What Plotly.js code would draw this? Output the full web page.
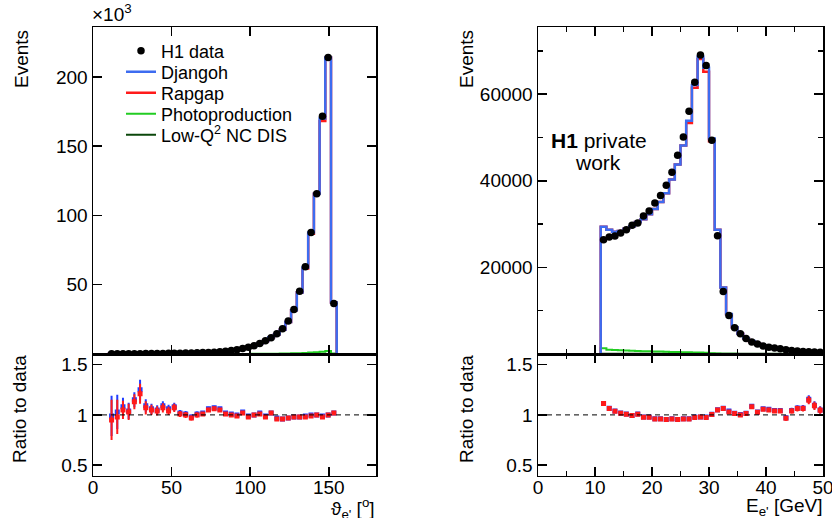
<!DOCTYPE html>
<html>
<head>
<meta charset="utf-8">
<script src="https://cdn.plot.ly/plotly-3.0.1.min.js"></script>
<style>html,body{margin:0;padding:0;background:#fff;}#chart{width:832px;height:518px;}</style>
</head>
<body>
<div id="chart"></div>
<script>
// ---------- Left: polar angle of scattered electron (units of 10^3 events) ----------
const thetaEdges = [10, 13.625, 17.25, 20.875, 24.5, 28.125, 31.75, 35.375, 39, 42.625, 46.25, 49.875, 53.5, 57.125, 60.75, 64.375, 68, 71.625, 75.25, 78.875, 82.5, 86.125, 89.75, 93.375, 97, 100.625, 104.25, 107.875, 111.5, 115.125, 118.75, 122.375, 126, 129.625, 133.25, 136.875, 140.5, 144.125, 147.75, 151.375, 155];
const thetaData = [0.15, 0.17, 0.19, 0.21, 0.23, 0.26, 0.30, 0.34, 0.38, 0.43, 0.48, 0.54, 0.60, 0.68, 0.77, 0.87, 1.0, 1.15, 1.35, 1.6, 2.0, 2.5, 3.1, 3.9, 4.9, 6.0, 7.5, 9.5, 11.8, 14.6, 18.2, 23.8, 32.2, 45.3, 63.0, 87.6, 115.6, 171.6, 213.9, 36.4];
const thetaDjangoh = [0.149, 0.175, 0.205, 0.218, 0.265, 0.325, 0.327, 0.36, 0.40, 0.47, 0.51, 0.58, 0.61, 0.69, 0.75, 0.88, 1.02, 1.22, 1.44, 1.70, 2.04, 2.53, 3.1, 4.02, 4.85, 6.0, 7.65, 9.4, 12.0, 14.2, 17.5, 23.1, 31.6, 44.4, 62.4, 87.6, 115.6, 169.9, 213.9, 37.1];
const thetaRapgap = [0.143, 0.167, 0.2, 0.216, 0.26, 0.315, 0.321, 0.357, 0.395, 0.46, 0.5, 0.578, 0.606, 0.68, 0.747, 0.87, 1.01, 1.21, 1.43, 1.68, 2.02, 2.5, 3.07, 3.98, 4.8, 6.0, 7.58, 9.31, 12.0, 14.0, 17.5, 23.1, 31.6, 44.4, 61.7, 86.7, 115.6, 168.2, 213.9, 37.1];
const thetaPhoto = [0.02, 0.02, 0.02, 0.02, 0.02, 0.02, 0.02, 0.02, 0.02, 0.03, 0.03, 0.03, 0.03, 0.03, 0.04, 0.04, 0.04, 0.05, 0.05, 0.05, 0.06, 0.06, 0.07, 0.08, 0.09, 0.1, 0.12, 0.15, 0.2, 0.25, 0.3, 0.4, 0.5, 0.6, 0.8, 1.0, 1.3, 1.7, 2.2, 0.3];
const thetaLowQ2 = [0.01, 0.01, 0.01, 0.01, 0.01, 0.01, 0.01, 0.01, 0.01, 0.01, 0.01, 0.01, 0.01, 0.01, 0.01, 0.01, 0.01, 0.01, 0.01, 0.01, 0.01, 0.01, 0.01, 0.01, 0.01, 0.01, 0.01, 0.01, 0.01, 0.01, 0.01, 0.01, 0.01, 0.01, 0.01, 0.01, 0.01, 0.01, 0.01, 0.01];
const thetaRatioDjangoh = [0.99, 1.03, 1.08, 1.04, 1.15, 1.25, 1.09, 1.06, 1.05, 1.09, 1.06, 1.08, 1.02, 1.01, 0.98, 1.01, 1.02, 1.06, 1.07, 1.06, 1.02, 1.01, 1.00, 1.03, 0.99, 1.00, 1.02, 0.99, 1.02, 0.97, 0.96, 0.97, 0.98, 0.98, 0.99, 1.00, 1.00, 0.99, 1.00, 1.02];
const thetaRatioRapgap = [0.95, 0.98, 1.05, 1.03, 1.13, 1.21, 1.07, 1.05, 1.04, 1.07, 1.04, 1.07, 1.01, 1.00, 0.97, 1.00, 1.01, 1.05, 1.06, 1.05, 1.01, 1.00, 0.99, 1.02, 0.98, 1.00, 1.01, 0.98, 1.02, 0.96, 0.96, 0.97, 0.98, 0.98, 0.98, 0.99, 1.00, 0.98, 1.00, 1.02];
const thetaRatioErr = [0.2, 0.17, 0.09, 0.08, 0.075, 0.1, 0.065, 0.05, 0.045, 0.045, 0.04, 0.04, 0.03, 0.03, 0.025, 0.025, 0.02, 0.02, 0.02, 0.018, 0.015, 0.015, 0.012, 0.012, 0.01, 0.01, 0.01, 0.008, 0.008, 0.007, 0.007, 0.006, 0.006, 0.005, 0.005, 0.005, 0.004, 0.004, 0.004, 0.006];
const thetaTicks = [0, 50, 100, 150];
const thetaEventTicks = [50, 100, 150, 200];

// ---------- Right: energy of scattered electron (events) ----------
const energyEdges = [11, 12, 13, 14, 15, 16, 17, 18, 19, 20, 21, 22, 23, 24, 25, 26, 27, 28, 29, 30, 31, 32, 33, 34, 35, 36, 37, 38, 39, 40, 41, 42, 43, 44, 45, 46, 47, 48, 49, 50];
const energyData = [26400, 27000, 27240, 27930, 28700, 29700, 30240, 31860, 33020, 34870, 36570, 38960, 41960, 45890, 50130, 56070, 62770, 69010, 66630, 49360, 27330, 14450, 8900, 6060, 4670, 3550, 2750, 2300, 1850, 1570, 1400, 1200, 1000, 830, 700, 600, 520, 450, 400];
const energyDjangoh = [29380, 28700, 28250, 28400, 28900, 29490, 30450, 31130, 32260, 33480, 35110, 37130, 40280, 43730, 48120, 53830, 62080, 68620, 66080, 49760, 28700, 15360, 9250, 6160, 4680, 3610, 2980, 2370, 1960, 1655, 1460, 1255, 970, 866, 748, 641, 600, 493, 420];
const energyRapgap = [29380, 28700, 28250, 28400, 28900, 29490, 30450, 31130, 32260, 33480, 35110, 37130, 40280, 43730, 48120, 53360, 61450, 68100, 65150, 49130, 28700, 15360, 9170, 6140, 4670, 3600, 2970, 2360, 1955, 1650, 1455, 1250, 967, 863, 744, 638, 596, 490, 419];
const energyPhoto = [1300, 1000, 900, 850, 800, 750, 700, 650, 620, 580, 550, 520, 490, 460, 430, 400, 370, 330, 280, 200, 100, 60, 40, 30, 25, 20, 18, 15, 12, 10, 9, 8, 7, 6, 6, 5, 5, 5, 5];
const energyLowQ2 = [30, 30, 30, 30, 30, 30, 30, 30, 30, 30, 30, 30, 30, 30, 30, 30, 30, 30, 30, 30, 30, 30, 30, 30, 30, 30, 30, 30, 30, 30, 30, 30, 30, 30, 30, 30, 30, 30, 30];
const energyRatioDjangoh = [1.113, 1.065, 1.038, 1.018, 1.008, 0.995, 1.008, 0.978, 0.978, 0.962, 0.962, 0.955, 0.962, 0.955, 0.962, 0.962, 0.98, 0.98, 0.98, 1.007, 1.052, 1.065, 1.04, 1.017, 1.003, 1.016, 1.085, 1.03, 1.06, 1.055, 1.045, 1.045, 0.972, 1.045, 1.068, 1.068, 1.155, 1.095, 1.05];
const energyRatioRapgap = [1.113, 1.063, 1.037, 1.017, 1.007, 0.993, 1.007, 0.977, 0.977, 0.96, 0.96, 0.953, 0.96, 0.953, 0.96, 0.96, 0.975, 0.978, 0.975, 1.003, 1.05, 1.063, 1.03, 1.013, 1.0, 1.013, 1.08, 1.027, 1.057, 1.05, 1.04, 1.04, 0.967, 1.04, 1.063, 1.063, 1.147, 1.09, 1.047];
const energyRatioErr = [0.006, 0.006, 0.006, 0.006, 0.006, 0.006, 0.006, 0.006, 0.005, 0.005, 0.005, 0.005, 0.005, 0.005, 0.005, 0.005, 0.005, 0.005, 0.005, 0.005, 0.006, 0.008, 0.01, 0.012, 0.013, 0.015, 0.016, 0.018, 0.019, 0.02, 0.021, 0.022, 0.024, 0.026, 0.028, 0.03, 0.04, 0.04, 0.035];
const energyTicks = [0, 10, 20, 30, 40, 50];
const energyEventTicks = [20000, 40000, 60000];
const energyEventTickText = ['20000', '40000', '60000'];

const ratioTicks = [0.5, 1, 1.5];
const ratioTickText = ['0.5', '1', '1.5'];

// ---------- helpers ----------
const centers = e => e.slice(0, -1).map((v, i) => (v + e[i + 1]) / 2);
function stepXY(edges, vals, xmin, xmax) {
  const n = vals.length;
  let x = [edges[0], edges[0]].concat(edges.slice(1, n)).concat([edges[n], edges[n]]);
  let y = [0, vals[0]].concat(vals.slice(1)).concat([vals[n - 1], 0]);
  if (xmin !== undefined) { x = [xmin].concat(x).concat([xmax]); y = [0].concat(y).concat([0]); }
  return {x, y};
}
const FONT = 'Liberation Sans, Arial, Helvetica, sans-serif';
const BLUE = '#3d6cf0', RED = '#ff1a1a', GREEN = '#22cc22', DKGREEN = '#0b470b';

function histTrace(edges, vals, xa, ya, color, width, name, leg, xmin, xmax) {
  const s = stepXY(edges, vals, xmin, xmax);
  return {x: s.x, y: s.y, xaxis: xa, yaxis: ya, type: 'scatter', mode: 'lines',
    line: {shape: 'hv', color: color, width: width}, name: name, showlegend: !!leg,
    legend: leg || 'legend', hoverinfo: 'skip'};
}
function dataTrace(edges, vals, xa, ya, leg) {
  return {x: centers(edges), y: vals, xaxis: xa, yaxis: ya, type: 'scatter', mode: 'markers',
    marker: {color: 'black', size: 7.5, symbol: 'circle'}, name: 'H1 data', showlegend: !!leg, legend: leg || 'legend'};
}
function ratioTrace(edges, vals, err, xa, ya, color) {
  return {x: centers(edges), y: vals, xaxis: xa, yaxis: ya, type: 'scatter', mode: 'markers',
    marker: {color: color, size: 5, symbol: 'square'},
    error_y: {type: 'data', array: err, visible: true, color: color, thickness: 2, width: 0},
    showlegend: false};
}

const traces = [
  // left upper
  histTrace(thetaEdges, thetaLowQ2, 'x', 'y', DKGREEN, 2, 'Low-Q<sup>2</sup> NC DIS', 'legend5', 0, 180),
  histTrace(thetaEdges, thetaPhoto, 'x', 'y', GREEN, 2, 'Photoproduction', 'legend4'),
  histTrace(thetaEdges, thetaRapgap, 'x', 'y', RED, 2.5, 'Rapgap', 'legend3'),
  histTrace(thetaEdges, thetaDjangoh, 'x', 'y', BLUE, 2.5, 'Djangoh', 'legend2'),
  dataTrace(thetaEdges, thetaData, 'x', 'y', 'legend'),
  // right upper
  histTrace(energyEdges, energyLowQ2, 'x2', 'y2', DKGREEN, 2, 'Low-Q2', null, 0, 50),
  histTrace(energyEdges, energyPhoto, 'x2', 'y2', GREEN, 2, 'Photoproduction', null),
  histTrace(energyEdges, energyRapgap, 'x2', 'y2', RED, 2.5, 'Rapgap', null),
  histTrace(energyEdges, energyDjangoh, 'x2', 'y2', BLUE, 2.5, 'Djangoh', null),
  dataTrace(energyEdges, energyData, 'x2', 'y2', null),
  // ratios
  ratioTrace(thetaEdges, thetaRatioDjangoh, thetaRatioErr, 'x3', 'y3', '#1f3cff'),
  ratioTrace(thetaEdges, thetaRatioRapgap, thetaRatioErr, 'x3', 'y3', RED),
  ratioTrace(energyEdges, energyRatioDjangoh, energyRatioErr, 'x4', 'y4', '#1f3cff'),
  ratioTrace(energyEdges, energyRatioRapgap, energyRatioErr, 'x4', 'y4', RED)
];

const W = 832, H = 518;
const px = v => v / W, py = v => 1 - v / H;
const axBase = {showgrid: false, zeroline: false, showline: true, linecolor: 'black', linewidth: 1.5,
  mirror: 'ticks', ticks: 'inside', tickcolor: 'black', tickwidth: 1.5, ticklen: 9,
  ticklabeloverflow: 'allow',
  tickfont: {family: FONT, size: 19, color: 'black'}, fixedrange: true};
const minorX = {ticks: 'inside', ticklen: 5, tickcolor: 'black', tickwidth: 1.5, tickmode: 'array', tickvals: [5, 15, 25, 35, 45]};
const LX = [px(93), px(376)], RX = [px(538), px(823)];
const UY = [py(354), py(27)], DY = [py(475.5), py(354)];

function legendAt(rowY) {
  return {x: px(121), y: py(rowY), xanchor: 'left', yanchor: 'middle', bgcolor: 'rgba(0,0,0,0)', borderwidth: 0,
    font: {family: FONT, size: 18, color: 'black'}, itemwidth: 30};
}

const layout = {
  width: W, height: H, margin: {l: 0, r: 0, t: 0, b: 0},
  paper_bgcolor: 'white', plot_bgcolor: 'white', font: {family: FONT, color: 'black'},
  xaxis: Object.assign({}, axBase, {domain: LX, range: [0, 180], anchor: 'y', tickmode: 'array', tickvals: thetaTicks, showticklabels: false}),
  yaxis: Object.assign({}, axBase, {domain: UY, range: [0, 236], anchor: 'x', tickmode: 'array', tickvals: thetaEventTicks}),
  xaxis2: Object.assign({}, axBase, {domain: RX, range: [0, 50], anchor: 'y2', tickmode: 'array', tickvals: energyTicks, showticklabels: false, minor: minorX}),
  yaxis2: Object.assign({}, axBase, {domain: UY, range: [0, 75500], anchor: 'x2', tickmode: 'array', tickvals: energyEventTicks, ticktext: energyEventTickText,
    minor: {ticks: 'inside', ticklen: 5, tickcolor: 'black', tickwidth: 1.5, tickmode: 'array', tickvals: [10000, 30000, 50000, 70000]}}),
  xaxis3: Object.assign({}, axBase, {domain: LX, range: [0, 180], anchor: 'y3', tickmode: 'array', tickvals: thetaTicks, ticklabelstandoff: -6}),
  yaxis3: Object.assign({}, axBase, {domain: DY, range: [0.397, 1.606], anchor: 'x3', tickmode: 'array', tickvals: ratioTicks, ticktext: ratioTickText}),
  xaxis4: Object.assign({}, axBase, {domain: RX, range: [0, 50], anchor: 'y4', tickmode: 'array', tickvals: energyTicks, ticklabelstandoff: -6, minor: minorX}),
  yaxis4: Object.assign({}, axBase, {domain: DY, range: [0.397, 1.606], anchor: 'x4', tickmode: 'array', tickvals: ratioTicks, ticktext: ratioTickText}),
  showlegend: true,
  legend: legendAt(51), legend2: legendAt(72), legend3: legendAt(93), legend4: legendAt(114), legend5: legendAt(135),
  shapes: [
    {type: 'line', xref: 'x3 domain', yref: 'y3', x0: 0, x1: 1, y0: 1, y1: 1, line: {color: 'black', width: 1, dash: '5px,4px'}},
    {type: 'line', xref: 'x4 domain', yref: 'y4', x0: 0, x1: 1, y0: 1, y1: 1, line: {color: 'black', width: 1, dash: '5px,4px'}}
  ],
  annotations: [
    {xref: 'paper', yref: 'paper', x: px(21), y: py(28), xanchor: 'center', yanchor: 'top', textangle: -90, showarrow: false, text: 'Events', font: {size: 19}},
    {xref: 'paper', yref: 'paper', x: px(19), y: py(353), xanchor: 'center', yanchor: 'top', textangle: -90, showarrow: false, text: 'Ratio to data', font: {size: 19}},
    {xref: 'paper', yref: 'paper', x: px(466), y: py(28), xanchor: 'center', yanchor: 'top', textangle: -90, showarrow: false, text: 'Events', font: {size: 19}},
    {xref: 'paper', yref: 'paper', x: px(466), y: py(353), xanchor: 'center', yanchor: 'top', textangle: -90, showarrow: false, text: 'Ratio to data', font: {size: 19}},
    {xref: 'paper', yref: 'paper', x: px(90), y: py(27), xanchor: 'left', yanchor: 'bottom', showarrow: false, text: '×10<sup>3</sup>', font: {size: 19}},
    {xref: 'paper', yref: 'paper', x: px(377), y: py(493), xanchor: 'right', yanchor: 'top', showarrow: false, text: "ϑ<sub>e'</sub> [<sup>o</sup>]", font: {size: 19}},
    {xref: 'paper', yref: 'paper', x: px(824), y: py(493), xanchor: 'right', yanchor: 'top', showarrow: false, text: "E<sub>e'</sub> [GeV]", font: {size: 19}},
    {xref: 'paper', yref: 'paper', x: px(549), y: py(140), xanchor: 'left', yanchor: 'middle', showarrow: false, text: '<b>H1</b> private', font: {size: 21}},
    {xref: 'paper', yref: 'paper', x: px(598), y: py(162), xanchor: 'center', yanchor: 'middle', showarrow: false, text: 'work', font: {size: 21}}
  ]
};

Plotly.newPlot('chart', traces, layout, {staticPlot: true, displayModeBar: false});
</script>
</body>
</html>
